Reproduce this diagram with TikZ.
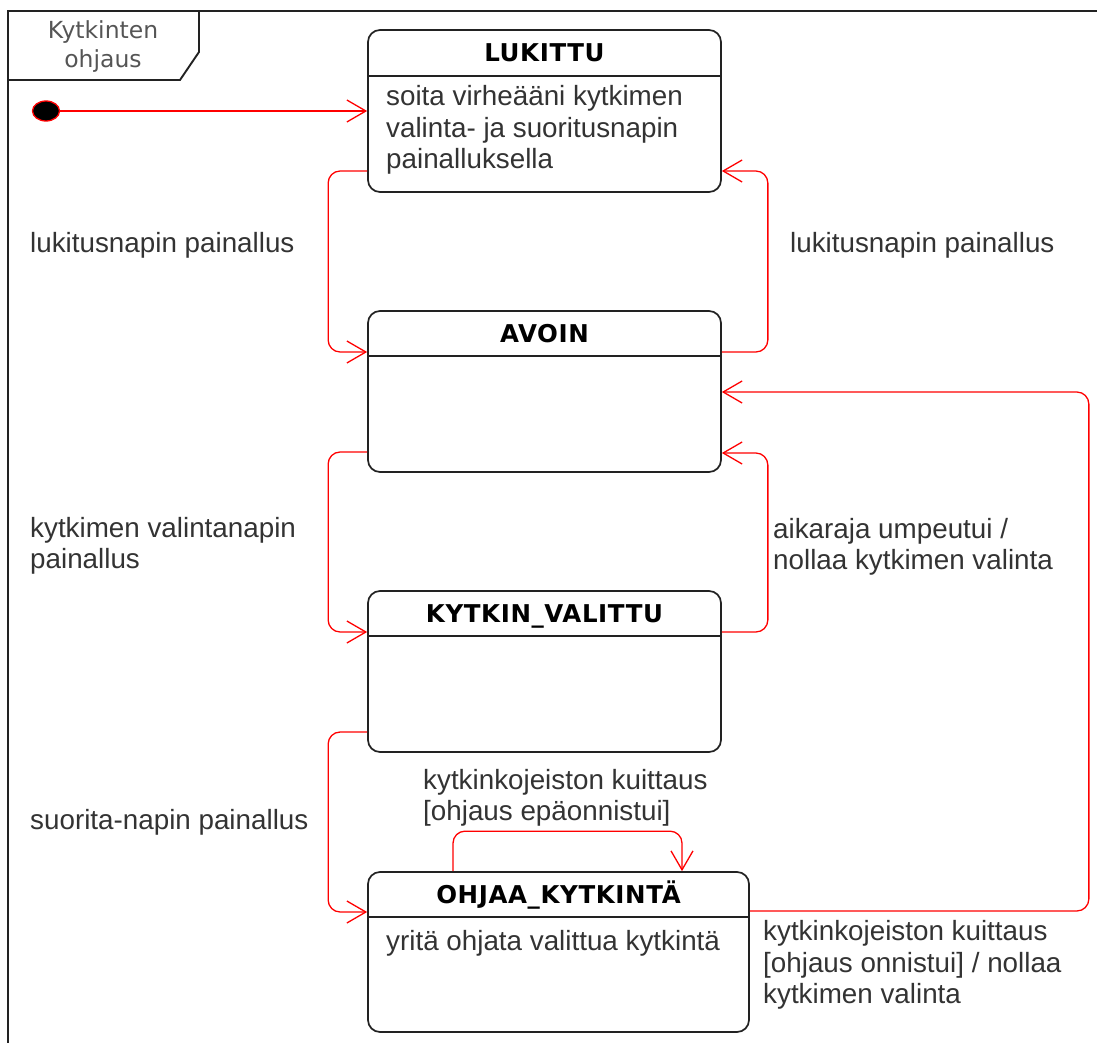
\documentclass[tikz,border=0pt]{standalone}
\usepackage{fontspec}
\setmainfont{Liberation Sans}
\newfontfamily\headfont{DejaVu Sans}
\newfontfamily\headfontwide{DejaVu Sans}[LetterSpace=2.5]
\usetikzlibrary{arrows.meta,calc,shapes.geometric}
\definecolor{ink}{RGB}{34,34,34}
\definecolor{txt}{RGB}{51,51,51}
\definecolor{framelbl}{RGB}{85,85,85}
\definecolor{trred}{RGB}{255,0,0}
\tikzset{
  state/.style={draw=ink, line width=1.7pt, rounded corners=12pt,
    minimum width=353pt, inner sep=0pt},
  divider/.style={draw=ink, line width=1.7pt},
  ttl/.style={font=\headfontwide\bfseries\fontsize{24.5pt}{28pt}\selectfont,
    text=black, inner sep=0pt, anchor=base},
  body/.style={font=\fontsize{27.8pt}{31.5pt}\selectfont, text=txt,
    align=left, inner sep=0pt, anchor=north west},
  lbl/.style={font=\fontsize{27.8pt}{31.5pt}\selectfont, text=txt,
    align=left, inner sep=0pt, anchor=west},
  tr/.style={draw=trred, line width=1.3pt, rounded corners=12pt,
    -{Straight Barb[length=19pt,width=22pt,line width=1.3pt]}},
}
\begin{document}
\begin{tikzpicture}[x=1pt,y=-1pt]
\useasboundingbox (0,0) rectangle (1097,1043);
\clip (0,0) rectangle (1097,1043);

% outer frame and its name tab
\draw[ink, line width=1.9pt] (8,1060) -- (8,11) -- (1110,11);
\draw[ink, line width=1.9pt] (8,80) -- (180,80) -- (199,52) -- (199,11);
\node[font=\headfont\fontsize{23.5pt}{29pt}\selectfont, text=framelbl,
  align=center, inner sep=0pt] (frame) at (103,47) {Kytkinten\\ohjaus};

% states
\node[state, minimum height=162pt] (luk) at (544.5,111) {};
\node[state, minimum height=161pt] (av)  at (544.5,391.5) {};
\node[state, minimum height=161pt] (kv)  at (544.5,671.5) {};
\node[state, minimum height=160pt, minimum width=381pt] (oh) at (558.5,952) {};

\draw[divider] ([yshift=-47pt]luk.north west) -- ([yshift=-47pt]luk.north east);
\draw[divider] ([yshift=-46pt]av.north west) -- ([yshift=-46pt]av.north east);
\draw[divider] ([yshift=-46pt]kv.north west) -- ([yshift=-46pt]kv.north east);
\draw[divider] ([yshift=-46pt]oh.north west) -- ([yshift=-46pt]oh.north east);

\node[ttl] (lukT) at ($(luk.north)+(0,32)$) {LUKITTU};
\node[ttl] (avT)  at ($(av.north)+(0,32)$) {AVOIN};
\node[ttl] (kvT)  at ($(kv.north)+(0,32)$) {KYTKIN\_VALITTU};
\node[ttl] (ohT)  at ($(oh.north)+(0,32)$) {OHJAA\_KYTKINTÄ};

\node[body] (lukB) at (386,85.5) {soita virheääni kytkimen\\valinta- ja suoritusnapin\\painalluksella};
\node[body] (ohB) at (386,930.5) {yritä ohjata valittua kytkintä};

% initial pseudostate
\node[draw=trred, fill=black, line width=1.3pt, ellipse, minimum width=27pt,
  minimum height=20pt, inner sep=0pt] (init) at (46,111) {};
\draw[tr] (init) -- (luk.west);

% transitions
\draw[tr] ([yshift=-60pt]luk.west) -- ++(-39,0) |- ([yshift=39.5pt]av.west);
\draw[tr] ([yshift=39.5pt]av.east) -- ++(46,0) |- ([yshift=-60pt]luk.east);
\draw[tr] ([yshift=-60.5pt]av.west) -- ++(-39,0) |- ([yshift=39.5pt]kv.west);
\draw[tr] ([yshift=39.5pt]kv.east) -- ++(46,0) |- ([yshift=-61.5pt]av.east);
\draw[tr] ([yshift=-60.5pt]kv.west) -- ++(-39,0) |- ([yshift=40pt]oh.west);
\draw[tr] ([xshift=-105.5pt]oh.north) -- ++(0,-40) -| ([xshift=123.5pt]oh.north);
\draw[tr] ([yshift=41pt]oh.east) -- ++(339,0) |- ([yshift=-0.5pt]av.east);

% transition labels
\node[lbl] (l1) at (30,245) {lukitusnapin painallus};
\node[lbl] (l2) at (790,245) {lukitusnapin painallus};
\node[lbl] (l3) at (30,546) {kytkimen valintanapin\\painallus};
\node[lbl] (l4) at (773,547) {aikaraja umpeutui /\\nollaa kytkimen valinta};
\node[lbl] (l5) at (30,822) {suorita-napin painallus};
\node[lbl] (l6) at (423,798) {kytkinkojeiston kuittaus\\{[ohjaus epäonnistui]}};
\node[lbl] (l7) at (763,965) {kytkinkojeiston kuittaus\\{[ohjaus onnistui]} / nollaa\\kytkimen valinta};
\end{tikzpicture}
\end{document}
